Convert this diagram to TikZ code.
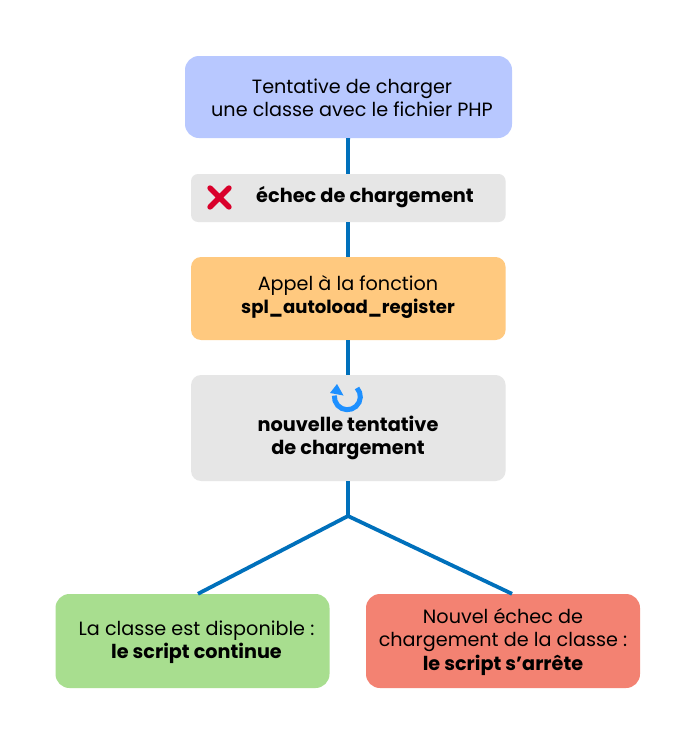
\documentclass[tikz,border=0pt]{standalone}
\usepackage{fontspec}
\setmainfont{Poppins}
\definecolor{cblue}{HTML}{B8C8FF}
\definecolor{cgrey}{HTML}{E6E6E6}
\definecolor{corange}{HTML}{FFC97F}
\definecolor{cgreen}{HTML}{A8DE8F}
\definecolor{cred}{HTML}{F38272}
\definecolor{cline}{HTML}{0070BB}
\definecolor{ccross}{HTML}{D9002B}
\definecolor{carrow}{HTML}{1E90FF}
\tikzset{x=1pt,y=-1pt,
 box/.style={draw=none,rounded corners=#1,inner sep=0pt},
 label/.style={inner sep=0pt,align=center,text=black,font=\fontsize{19.2}{23.4}\selectfont},
 boldlabel/.style={label,font=\fontsize{19.3}{23.4}\selectfont\bfseries},
 link/.style={draw=cline,line width=3.8pt},
}
\begin{document}
\begin{tikzpicture}
\useasboundingbox (0,0) rectangle (696,742);
\fill[white] (0,0) rectangle (696,742);
\node[box=14pt,fill=cblue,minimum width=327pt,minimum height=82pt] (n1) at (348.5,97) {};
\node[label] (t1) at (352,98) {Tentative de charger\\une classe avec le fichier PHP};
\node[box=7pt,fill=cgrey,minimum width=314.5pt,minimum height=48pt] (n2) at (348.3,198) {};
\node[boldlabel] (t2) at (365,197) {échec de chargement};
\node[box=10pt,fill=corange,minimum width=314.5pt,minimum height=83pt] (n3) at (348.3,298.5) {};
\node[label] (t3) at (348,297) {Appel à la fonction\\{\fontsize{18.1}{23.4}\selectfont\bfseries spl\_autoload\_register}};
\node[box=10pt,fill=cgrey,minimum width=314.5pt,minimum height=106pt] (n4) at (348.3,428) {};
\node[boldlabel] (t4) at (348,438) {nouvelle tentative\\de chargement};
\node[box=14pt,fill=cgreen,minimum width=274pt,minimum height=94pt] (n5) at (192.5,641) {};
\node[label] (t5) at (196.5,642) {La classe est disponible :\\\textbf{le script continue}};
\node[box=14pt,fill=cred,minimum width=274pt,minimum height=94pt] (n6) at (503,641) {};
\node[label] (t6) at (503,642) {Nouvel échec de\\chargement de la classe :\\\textbf{le script s’arrête}};
\coordinate (fork) at (348,516);
\draw[link] ([xshift=-.4pt]n1.south) -- ([xshift=-.3pt]n2.north);
\draw[link] ([xshift=-.3pt]n2.south) -- ([xshift=-.3pt]n3.north);
\draw[link] ([xshift=-.3pt]n3.south) -- ([xshift=-.3pt]n4.north);
\draw[link] ([xshift=-.3pt]n4.south) -- (fork);
\draw[link] (fork) -- ([xshift=5.5pt]n5.north);
\draw[link] (fork) -- ([xshift=9pt]n6.north);
\draw[ccross,line width=5.4pt,line cap=round] (210,188) -- (229,207) (229,188) -- (210,207);
\draw[carrow,line width=5pt] (357,388) arc[start angle=-42,end angle=185,radius=13];
\fill[carrow,line join=round] (337,384) -- (330,393) -- (343.5,395.5) -- cycle;
\end{tikzpicture}
\end{document}
